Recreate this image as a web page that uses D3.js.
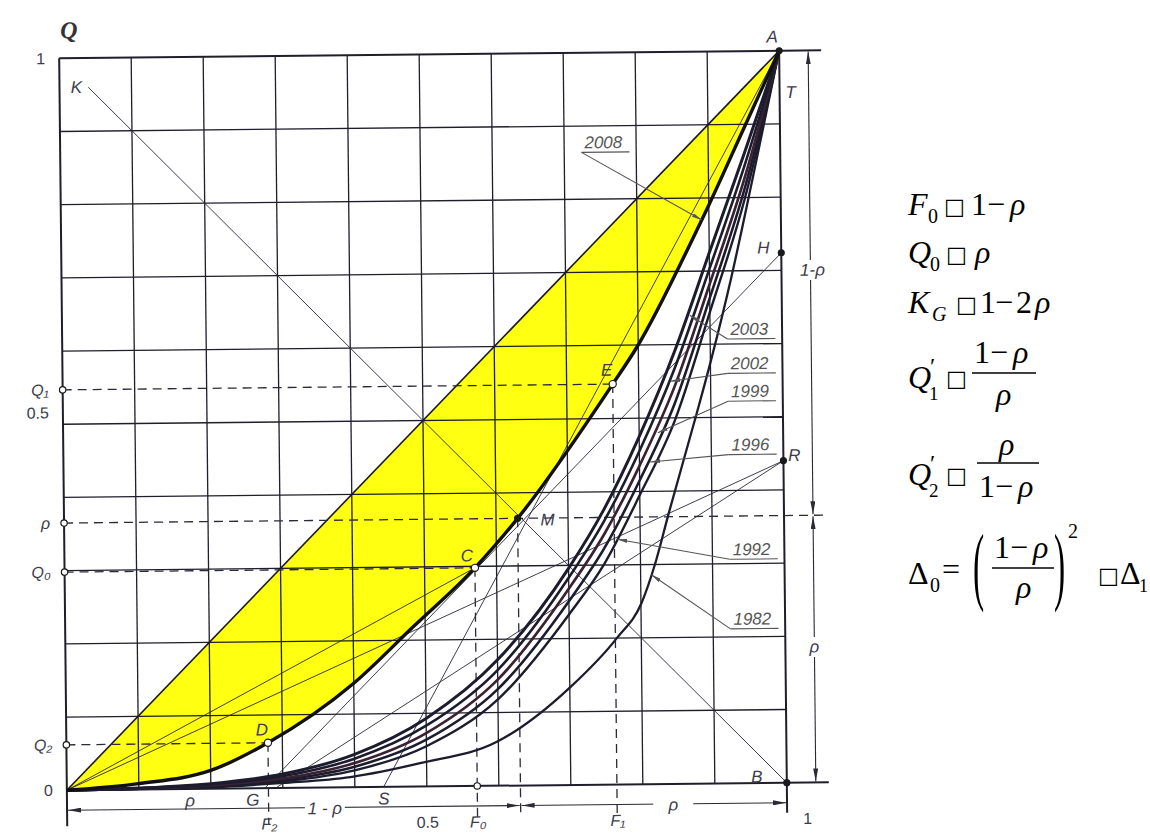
<!DOCTYPE html>
<html><head><meta charset="utf-8">
<script src="https://cdn.jsdelivr.net/npm/d3@7"></script>
<style>
html,body{margin:0;padding:0;background:#fff;}
svg{display:block;}
</style></head><body>
<svg id="chart" width="1150" height="839"></svg>
<script>
// ================= DATA =================
const gridTicks = [0,0.1,0.2,0.3,0.4,0.5,0.6,0.7,0.8,0.9,1];

// Lorenz curves (F = share of population, Q = share of income)
const F2008 = [0, 0.10, 0.20, 0.28, 0.40, 0.483, 0.57, 0.63, 0.764, 0.798, 0.88, 0.90, 0.95, 1];
const Q2008 = [0, 0.008, 0.025, 0.062, 0.142, 0.218, 0.298, 0.365, 0.547, 0.597, 0.75, 0.79, 0.895, 1];

const FBundle = [0, 0.1, 0.2, 0.3, 0.4, 0.5, 0.6, 0.7, 0.75, 0.8, 0.85, 0.9, 0.95, 1];
const Q2003 = [0, 0.0020, 0.007, 0.019, 0.045, 0.093, 0.172, 0.296, 0.376, 0.475, 0.590, 0.725, 0.860, 1];
const Q2002 = [0, 0.0015, 0.006, 0.016, 0.039, 0.083, 0.158, 0.283, 0.360, 0.455, 0.567, 0.703, 0.843, 1];
const Q1999 = [0, 0.0012, 0.005, 0.013, 0.033, 0.073, 0.145, 0.268, 0.342, 0.435, 0.543, 0.682, 0.826, 1];
const Q1996 = [0, 0.0010, 0.004, 0.011, 0.028, 0.064, 0.132, 0.251, 0.323, 0.415, 0.520, 0.663, 0.812, 1];
const Q1992 = [0, 0.0008, 0.003, 0.009, 0.023, 0.055, 0.118, 0.233, 0.302, 0.395, 0.497, 0.644, 0.798, 1];

const F1982 = [0, 0.20, 0.30, 0.394, 0.491, 0.598, 0.700, 0.766, 0.801, 0.820, 0.840, 0.880, 0.900, 0.930, 0.960, 1];
const Q1982 = [0, 0.002, 0.007, 0.014, 0.032, 0.060, 0.133, 0.200, 0.248, 0.300, 0.370, 0.505, 0.575, 0.690, 0.820, 1];

const yearNames = ["2008","2003","2002","1999","1996","1992","1982"];

// named points
const pointNames = ["A","B","C","D","E","M","H","R"];
const pointF = [1, 1, 0.57, 0.28, 0.764, 0.63, 1, 1];
const pointQ = [1, 0, 0.298, 0.062, 0.547, 0.365, 0.724, 0.44];

// axis-foot points
const footNames = ["ρ","G","S"];
const footF = [0.171, 0.258, 0.44];

// characteristic values
const rho = 0.365, Q1v = 0.547, Q0v = 0.298, Q2v = 0.062;
const F2v = 0.28, F0v = 0.57, FMv = 0.63, F1v = 0.764;

// tick labels
const leftTickLabels = ["1","Q₁","0.5","ρ","Q₀","Q₂","0"];
const leftTickValues = [1, Q1v, 0.5, rho, Q0v, Q2v, 0];
const bottomTickLabels = ["F₂","0.5","F₀","F₁","1"];
const bottomTickValues = [F2v, 0.5, F0v, F1v, 1];

// ================= DRAW =================
const svg = d3.select("#chart");
const W = 720, H = 732;
const x = d3.scaleLinear().domain([0,1]).range([0,W]);
const y = d3.scaleLinear().domain([0,1]).range([H,0]);

const defs = svg.append("defs");
function mk(id, len, wid, col){
  defs.append("marker").attr("id",id).attr("viewBox",`0 0 ${len} ${wid}`)
    .attr("refX",len).attr("refY",wid/2).attr("markerWidth",len).attr("markerHeight",wid)
    .attr("markerUnits","userSpaceOnUse").attr("orient","auto-start-reverse")
    .append("path").attr("d",`M0,0 L${len},${wid/2} L0,${wid} z`).attr("fill",col);
}
mk("arr", 13, 5, "#2a2a35");
mk("arrs", 10, 4, "#555");

const g = svg.append("g").attr("transform","translate(423,420.5) rotate(-0.6) translate(-360,-366)");

const pts = (F,Q)=>F.map((f,i)=>({F:f,Q:Q[i]}));
const d2008 = pts(F2008,Q2008);

// yellow area between equality line and 2008 curve
const area = d3.area().x(d=>x(d.F)).y0(d=>y(d.Q)).y1(d=>y(d.F)).curve(d3.curveMonotoneX);
g.append("path").datum(d2008).attr("d",area).attr("fill","#ffff12");

// grid
const gridCol = "#1e1e2c";
g.selectAll(".vg").data(gridTicks).join("line")
  .attr("x1",d=>x(d)).attr("x2",d=>x(d)).attr("y1",0).attr("y2",d=>(d===0?H+36:(d===1?H+30:H)))
  .attr("stroke",gridCol).attr("stroke-width",d=>(d===0||d===1)?2:1.3);
g.selectAll(".hg").data(gridTicks).join("line")
  .attr("y1",d=>y(d)).attr("y2",d=>y(d)).attr("x1",0).attr("x2",d=>(d===0||d===1)?W+42:W)
  .attr("stroke",gridCol).attr("stroke-width",d=>(d===0||d===1)?2:1.3);

// equality diagonal
g.append("line").attr("x1",x(0)).attr("y1",y(0)).attr("x2",x(1)).attr("y2",y(1))
  .attr("stroke","#1a1a1a").attr("stroke-width",1.6);

// thin construction lines
const consLines = [
  [[0.04,0.96],[1,0]],      // K - B
  [[0,0],[F0v,Q0v]],        // O - C
  [[0,0],[1,0.44]],         // O - R
  [[0.275,0],[1,0.724]],    // G - H
  [[0.29,0],[1,0.44]],      // G - R
  [[0.44,0],[1,1]]          // S - A
];
g.selectAll(".cl").data(consLines).join("line")
  .attr("x1",d=>x(d[0][0])).attr("y1",d=>y(d[0][1])).attr("x2",d=>x(d[1][0])).attr("y2",d=>y(d[1][1]))
  .attr("stroke","#2a2a3a").attr("stroke-width",0.9);

// dashed reference lines
const dashStyle = s=>s.attr("stroke","#2a2a3a").attr("stroke-width",1.3).attr("stroke-dasharray","9,6");
dashStyle(g.append("line").attr("x1",0).attr("x2",x(F1v)).attr("y1",y(Q1v)).attr("y2",y(Q1v)));
dashStyle(g.append("line").attr("x1",0).attr("x2",W+42).attr("y1",y(rho)).attr("y2",y(rho)));
dashStyle(g.append("line").attr("x1",0).attr("x2",x(F0v)).attr("y1",y(Q0v)).attr("y2",y(Q0v)));
dashStyle(g.append("line").attr("x1",0).attr("x2",x(F2v)).attr("y1",y(Q2v)).attr("y2",y(Q2v)));
dashStyle(g.append("line").attr("x1",x(F2v)).attr("x2",x(F2v)).attr("y1",y(Q2v)).attr("y2",H+36));
dashStyle(g.append("line").attr("x1",x(F0v)).attr("x2",x(F0v)).attr("y1",y(Q0v)).attr("y2",H+36));
dashStyle(g.append("line").attr("x1",x(FMv)).attr("x2",x(FMv)).attr("y1",y(rho)).attr("y2",H+28));
dashStyle(g.append("line").attr("x1",x(F1v)).attr("x2",x(F1v)).attr("y1",y(Q1v)).attr("y2",H+34));

// Lorenz curves
const line = d3.line().x(d=>x(d.F)).y(d=>y(d.Q)).curve(d3.curveMonotoneX);
const curves = [
  {n:"1982", d:pts(F1982,Q1982), w:2.3, c:"#1c1c2e"},
  {n:"1992", d:pts(FBundle,Q1992), w:2.4, c:"#1c1c2e"},
  {n:"1996", d:pts(FBundle,Q1996), w:2.6, c:"#1c1c2e"},
  {n:"1999", d:pts(FBundle,Q1999), w:2.7, c:"#3b2232"},
  {n:"2002", d:pts(FBundle,Q2002), w:2.6, c:"#1c1c2e"},
  {n:"2003", d:pts(FBundle,Q2003), w:3.0, c:"#1c1c2e"},
  {n:"2008", d:d2008, w:3.4, c:"#101010"}
];
g.selectAll(".cv").data(curves).join("path")
  .attr("d",d=>line(d.d)).attr("fill","none").attr("stroke",d=>d.c).attr("stroke-width",d=>d.w)
  .attr("stroke-linejoin","round");

// points
const P = pointNames.map((n,i)=>({n, F:pointF[i], Q:pointQ[i]}));
const openPts = ["C","D","E"];
g.selectAll(".pt").data(P).join("circle")
  .attr("cx",d=>x(d.F)).attr("cy",d=>y(d.Q))
  .attr("r",d=>openPts.includes(d.n)?3.6:3)
  .attr("fill",d=>openPts.includes(d.n)?"#fff":"#1a1a1a")
  .attr("stroke","#1a1a1a").attr("stroke-width",1.2);

const lblOff = {A:[-7,-14],B:[-30,-6],C:[-8,-12],D:[-6,-13],E:[-6,-14],M:[30,2],H:[-18,-5],R:[11,-5]};
const lblFont = s=>s.attr("font-family","Liberation Sans, Arial, sans-serif").attr("font-style","italic")
  .attr("font-size",17).attr("fill","#3c3c4c").attr("text-anchor","middle").attr("dominant-baseline","central");
lblFont(g.selectAll(".pl").data(P).join("text")
  .attr("x",d=>x(d.F)+lblOff[d.n][0]).attr("y",d=>y(d.Q)+lblOff[d.n][1]).text(d=>d.n));
lblFont(g.append("text").attr("x",x(0.04)-12).attr("y",y(0.96)).text("K").attr("font-size",19));
lblFont(g.append("text").attr("x",x(1)+11).attr("y",y(0.943)).text("T"));
lblFont(g.selectAll(".fl").data(footNames.map((n,i)=>({n,F:footF[i]}))).join("text")
  .attr("x",d=>x(d.F)).attr("y",H+12).text(d=>d.n));

// axis circles
g.selectAll(".ac").data([Q1v,rho,Q0v,Q2v]).join("circle")
  .attr("cx",0).attr("cy",d=>y(d)).attr("r",3.2).attr("fill","#fff").attr("stroke","#1a1a1a").attr("stroke-width",1.2);
g.append("circle").attr("cx",x(F0v)).attr("cy",H).attr("r",3.2).attr("fill","#fff").attr("stroke","#1a1a1a").attr("stroke-width",1.2);

// left tick labels
const axL = d3.axisLeft(y).tickValues(leftTickValues).tickFormat((d,i)=>leftTickLabels[i]).tickSize(0).tickPadding(14);
const gl = g.append("g").call(axL);
gl.select(".domain").remove();
gl.selectAll("text").attr("font-family","Liberation Sans, Arial, sans-serif").attr("font-style",(d,i)=>i===0||i===2||i===6?"normal":"italic")
  .attr("font-size",16).attr("fill","#3c3c4c").attr("dy",(d,i)=>i===2?"-0.4em":"0.32em");

// bottom tick labels
const axB = d3.axisBottom(x).tickValues(bottomTickValues).tickFormat((d,i)=>bottomTickLabels[i]).tickSize(0).tickPadding(30);
const gb = g.append("g").attr("transform",`translate(0,${H})`).call(axB);
gb.select(".domain").remove();
gb.selectAll("text").attr("font-family","Liberation Sans, Arial, sans-serif").attr("font-style",(d,i)=>(i===1||i===4)?"normal":"italic")
  .attr("font-size",16).attr("fill","#3c3c4c")
  .attr("dx",(d,i)=>i===4?20:0);

// axis title
g.append("text").attr("x",10).attr("y",-28).attr("text-anchor","middle").attr("dominant-baseline","central")
  .attr("font-family","Liberation Serif, serif").attr("font-style","italic").attr("font-weight","bold")
  .attr("font-size",24).attr("fill","#333").text("Q");

// dimension lines
const dimCol = "#2a2a35";
const yd = H+20;
g.append("line").attr("x1",1).attr("x2",x(FMv)-1).attr("y1",yd).attr("y2",yd).attr("stroke",dimCol).attr("stroke-width",1.1)
  .attr("marker-start","url(#arr)").attr("marker-end","url(#arr)");
g.append("line").attr("x1",x(FMv)+1).attr("x2",W-1).attr("y1",yd).attr("y2",yd).attr("stroke",dimCol).attr("stroke-width",1.1)
  .attr("marker-start","url(#arr)").attr("marker-end","url(#arr)");
const dimLbl = (xx,yy,t)=>{
  g.append("rect").attr("x",xx-20).attr("y",yy-10).attr("width",40).attr("height",20).attr("fill","#fff");
  lblFont(g.append("text").attr("x",xx).attr("y",yy).text(t));
};
dimLbl(x(0.358), yd+1, "1 - ρ");
dimLbl(x(0.842), yd+1, "ρ");

const xd = W+29;
g.append("line").attr("x1",xd).attr("x2",xd).attr("y1",1).attr("y2",y(rho)-1).attr("stroke",dimCol).attr("stroke-width",1.1)
  .attr("marker-start","url(#arr)").attr("marker-end","url(#arr)");
g.append("line").attr("x1",xd).attr("x2",xd).attr("y1",y(rho)+1).attr("y2",H-1).attr("stroke",dimCol).attr("stroke-width",1.1)
  .attr("marker-start","url(#arr)").attr("marker-end","url(#arr)");
g.append("rect").attr("x",xd-14).attr("y",y(0.7)-10).attr("width",30).attr("height",20).attr("fill","#fff");
lblFont(g.append("text").attr("x",xd+2).attr("y",y(0.7)).text("1-ρ"));
g.append("rect").attr("x",xd-8).attr("y",y(0.185)-10).attr("width",16).attr("height",20).attr("fill","#fff");
lblFont(g.append("text").attr("x",xd).attr("y",y(0.185)).text("ρ"));

// year labels with leaders
const yearAnno = [
  {n:"2008", lx:0.724, lq:0.864, tip:[0.89,0.77]},
  {n:"2003", lx:0.924, lq:0.607, tip:[0.872,0.64]},
  {n:"2002", lx:0.924, lq:0.560, tip:[0.844,0.55]},
  {n:"1999", lx:0.924, lq:0.522, tip:[0.826,0.48]},
  {n:"1996", lx:0.924, lq:0.449, tip:[0.815,0.44]},
  {n:"1992", lx:0.924, lq:0.306, tip:[0.768,0.335]},
  {n:"1982", lx:0.924, lq:0.211, tip:[0.815,0.286]}
];
const ya = g.selectAll(".ya").data(yearAnno).join("g");
ya.append("line").attr("x1",d=>x(d.lx)).attr("x2",d=>x(d.lx)+48).attr("y1",d=>y(d.lq)).attr("y2",d=>y(d.lq))
  .attr("stroke","#555").attr("stroke-width",1.1);
ya.append("line").attr("x1",d=>x(d.lx)).attr("y1",d=>y(d.lq)).attr("x2",d=>x(d.tip[0])).attr("y2",d=>y(d.tip[1]))
  .attr("stroke","#555").attr("stroke-width",1.1).attr("marker-end","url(#arrs)");
ya.append("text").attr("x",d=>x(d.lx)+3).attr("y",d=>y(d.lq)-4).text(d=>d.n)
  .attr("font-family","Liberation Sans, Arial, sans-serif").attr("font-style","italic")
  .attr("font-size",17).attr("fill","#555");

// ================= FORMULAS =================
const fg = svg.append("g").attr("fill","#000");
const SERIF = "Liberation Serif, 'Times New Roman', serif";
// each piece: [text, x, y, size, italic, family]
function formula(pieces){
  const t = fg.append("text").attr("font-family",SERIF).attr("font-size",32);
  pieces.forEach(p=>{
    t.append("tspan").attr("x",p[1]).attr("y",p[2]).text(p[0])
      .attr("font-size",p[3]||32).attr("font-style",p[4]?"italic":"normal")
      .attr("font-family",p[5]||SERIF);
  });
  return t;
}
const BOX = "DejaVu Sans, sans-serif";
const bar = (x1,x2,yy)=>fg.append("line").attr("x1",x1).attr("x2",x2).attr("y1",yy).attr("y2",yy).attr("stroke","#000").attr("stroke-width",1.6);

// F0 ≈ 1 − ρ
formula([["F",908,215,32,true],["0",928,223,20],["□",944,214,22,false,BOX],["1",971,215],["−",987,215],["ρ",1010,215,32,true]]);
// Q0 ≈ ρ
formula([["Q",908,263,32,true],["0",930,271,20],["□",946,262,22,false,BOX],["ρ",975,263,32,true]]);
// KG ≈ 1 − 2ρ
formula([["K",908,313,32,true],["G",932,321,20,true],["□",956,312,22,false,BOX],["1",980,313],["−",995,313],["2",1016,313],["ρ",1035,313,32,true]]);
// Q'1 ≈ (1−ρ)/ρ
formula([["Q",908,388,32,true],["′",930,374,24],["1",929,400,19],["□",946,386,22,false,BOX]]);
formula([["1",974,363],["−",990,363],["ρ",1013,363,32,true]]);
bar(972,1036,373);
formula([["ρ",996,405,32,true]]);
// Q'2 ≈ ρ/(1−ρ)
formula([["Q",908,485,32,true],["′",930,471,24],["2",929,497,19],["□",946,483,22,false,BOX]]);
formula([["ρ",999,455,32,true]]);
bar(977,1039,463);
formula([["1",979,497],["−",995,497],["ρ",1018,497,32,true]]);
// Δ0 = ((1−ρ)/ρ)^2 ≈ Δ1
formula([["Δ",908,584],["0",930,592,20],["=",942,580]]);
fg.append("g").attr("transform","translate(973,594) scale(1.05,2.7)")
  .append("text").text("(").attr("font-family",SERIF).attr("font-size",32);
formula([["1",994,558],["−",1010,558],["ρ",1033,558,32,true]]);
bar(992,1054,568);
formula([["ρ",1016,598,32,true]]);
fg.append("g").attr("transform","translate(1054,594) scale(1.05,2.7)")
  .append("text").text(")").attr("font-family",SERIF).attr("font-size",32);
formula([["2",1068,538,20]]);
formula([["□",1098,583,22,false,BOX],["Δ",1120,584],["1",1139,592,18]]);
</script>
</body></html>
